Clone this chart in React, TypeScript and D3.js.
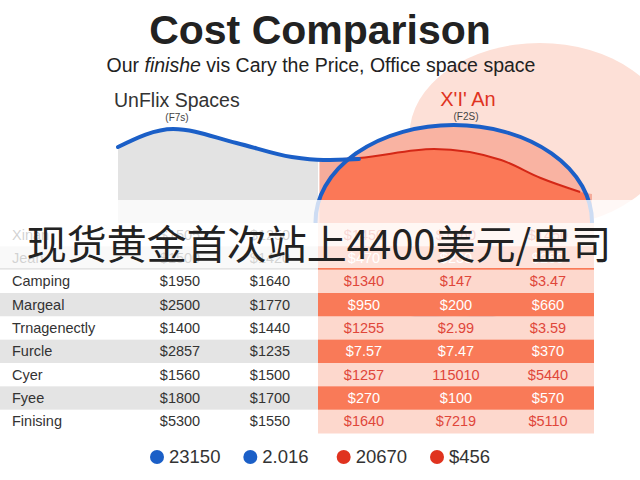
import React from "react";
import * as d3 from "d3";

// chart series (month index -> cost)
const unflixMonths = [0, 1.4, 3, 4.4, 5.2, 6.1];
const unflixCost = [1530, 1710, 1570, 1430, 1400, 1410];
const xianMonths = [5.1, 6.1, 8, 9.7, 10.7, 11.7];
const xianCost = [1400, 1420, 1510, 1400, 1220, 1080];

// table
const rowLabels = ["Xinan", "Jean", "Camping", "Margeal", "Trnagenectly", "Furcle", "Cyer", "Fyee", "Finising"];
const unflixCol1 = ["$1505", "$1500", "$1950", "$2500", "$1400", "$2857", "$1560", "$1800", "$5300"];
const unflixCol2 = ["$1250", "$1420", "$1640", "$1770", "$1440", "$1235", "$1500", "$1700", "$1550"];
const xianCol1 = ["$1450", "$470", "$1340", "$950", "$1255", "$7.57", "$1257", "$270", "$1640"];
const xianCol2 = ["$1360", "$230", "$147", "$200", "$2.99", "$7.47", "115010", "$100", "$7219"];
const xianCol3 = ["$1450", "$260", "$3.47", "$660", "$3.59", "$370", "$5440", "$570", "$5110"];

const legendLabels = ["23150", "2.016", "20670", "$456"];
const legendSeries = ["unflix", "unflix", "xian", "xian"];

const BLUE = "#1b5fc7";
const RED = "#e0331f";
const FONT = "'Liberation Sans', Arial, sans-serif";

export default function App() {
  const W = 640, H = 480;
  const x = d3.scaleLinear().domain([0, 12]).range([118, 592]);
  const y = d3.scaleLinear().domain([1000, 2000]).range([200, 100]);
  const tableTop = 223, tableBottom = 433;

  const blue = unflixMonths.map((m, i) => [m, unflixCost[i]] as [number, number]);
  const red = xianMonths.map((m, i) => [m, xianCost[i]] as [number, number]);

  const line = d3.line<[number, number]>().x(d => x(d[0])).y(d => y(d[1])).curve(d3.curveMonotoneX);
  const area = d3.area<[number, number]>().x(d => x(d[0])).y0(tableTop).y1(d => y(d[1])).curve(d3.curveMonotoneX);
  const redFill: [number, number][] = [...red, [12, 1060]];

  // highlight bubbles (data units)
  const bub = { cx: x(8.5), cy: y(780), rx: x(3.5) - x(0), ry: y(1000) - y(1970) };
  const pink = { cx: x(10.68), cy: y(1650), rx: x(3.3) - x(0), ry: y(1000) - y(1920) };

  const rows = d3.scaleBand().domain(rowLabels).range([tableTop, tableBottom]);
  const leftCols = d3.scaleBand().domain(["c1", "c2"]).range([135, 315]);
  const redKeys = ["r1", "r2", "r3"];
  const redCols = d3.scaleBand().domain(redKeys).range([318, 594]);
  const legendX = d3.scalePoint().domain(legendLabels).range([157, 437]);
  const seriesColor = d3.scaleOrdinal<string, string>().domain(["unflix", "xian"]).range([BLUE, RED]);

  return (
    <svg width={W} height={H} style={{ position: "fixed", left: 0, top: 0, background: "#fff" }} fontFamily={FONT}>
      <defs>
        <clipPath id="leftClip"><rect x={x(0)} y={0} width={318 - x(0)} height={tableTop} /></clipPath>
        <clipPath id="redClip"><rect x={318} y={0} width={592 - 318} height={tableTop} /></clipPath>
        <clipPath id="bubClip"><ellipse cx={bub.cx} cy={bub.cy} rx={bub.rx} ry={bub.ry} /></clipPath>
      </defs>

      <ellipse cx={pink.cx} cy={pink.cy} rx={pink.rx} ry={pink.ry} fill="#fde0d7" />

      <text x={320} y={44} textAnchor="middle" fontSize={41} fontWeight="bold" fill="#222">Cost Comparison</text>
      <text x={321} y={72} textAnchor="middle" fontSize={19.5} fill="#222">
        Our <tspan fontStyle="italic">finishe</tspan> vis Cary the Price, Office space space
      </text>

      <text x={114} y={107} fontSize={19.5} fill="#333">UnFlix Spaces</text>
      <text x={177} y={121} textAnchor="middle" fontSize={10} fill="#444">(F7s)</text>
      <text x={468} y={106} textAnchor="middle" fontSize={20} fill={RED}>X'I' An</text>
      <text x={466} y={120} textAnchor="middle" fontSize={10} fill="#444">(F2S)</text>

      <path d={area(blue) ?? ""} fill="#e3e3e3" clipPath="url(#leftClip)" />
      <path d={area(redFill) ?? ""} fill="#f5ac9b" clipPath="url(#redClip)" />
      <ellipse cx={bub.cx} cy={bub.cy} rx={bub.rx} ry={bub.ry} fill="#f9b3a2" />
      <path d={area(redFill) ?? ""} fill="#fb7857" clipPath="url(#bubClip)" />
      <path d={line(red) ?? ""} fill="none" stroke="#d42716" strokeWidth={2} />
      <ellipse cx={bub.cx} cy={bub.cy} rx={bub.rx} ry={bub.ry} fill="none" stroke={BLUE} strokeWidth={4} />
      <path d={line(blue) ?? ""} fill="none" stroke={BLUE} strokeWidth={4} strokeLinecap="round" />

      {rowLabels.map((lab, i) => {
        const shaded = i % 2 === 1;
        const ry = rows(lab)!;
        const cy = ry + rows.bandwidth() / 2 + 5;
        const redVals = [xianCol1[i], xianCol2[i], xianCol3[i]];
        return (
          <g key={lab}>
            <rect x={0} y={ry} width={318} height={rows.bandwidth() + 0.5} fill={shaded ? "#e4e4e4" : "#fff"} />
            <rect x={318} y={ry} width={594 - 318} height={rows.bandwidth() + 0.5} fill={shaded ? "#f97a58" : "#fdd8cd"} />
            <text x={12} y={cy} fontSize={14.5} fill="#333">{lab}</text>
            <text x={leftCols("c1")! + leftCols.bandwidth() / 2} y={cy} textAnchor="middle" fontSize={14.5} fill="#333">{unflixCol1[i]}</text>
            <text x={leftCols("c2")! + leftCols.bandwidth() / 2} y={cy} textAnchor="middle" fontSize={14.5} fill="#333">{unflixCol2[i]}</text>
            {redVals.map((v, j) => (
              <text key={j} x={redCols(redKeys[j])! + redCols.bandwidth() / 2} y={cy} textAnchor="middle"
                fontSize={14.5} fill={shaded ? "#fff" : "#e0463a"}>{v}</text>
            ))}
          </g>
        );
      })}

      <rect x={0} y={200} width={W} height={68} fill="#fff" opacity={0.78} />
      <text x={319} y={259} textAnchor="middle" fontSize={40} fill="#222" fontFamily="'Noto Sans CJK SC', sans-serif">现货黄金首次站上4400美元/盅司</text>

      {legendLabels.map((lab, i) => (
        <g key={lab}>
          <circle cx={legendX(lab)!} cy={457} r={7} fill={seriesColor(legendSeries[i])} />
          <text x={legendX(lab)! + 12} y={463} fontSize={18.5} fill="#333">{lab}</text>
        </g>
      ))}
    </svg>
  );
}
